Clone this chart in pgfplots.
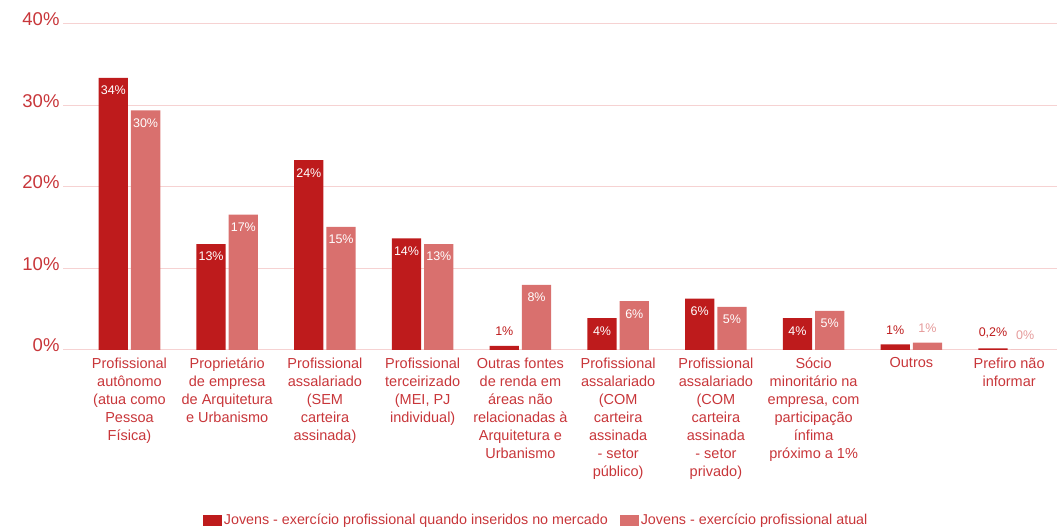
\documentclass[border=0pt]{standalone}
\usepackage{fontspec}
\setmainfont{Liberation Sans}
\usepackage{pgfplots}
\pgfplotsset{compat=1.18}
\definecolor{darkbar}{HTML}{BE1B1C}
\definecolor{lightbar}{HTML}{D9706E}
\definecolor{txtred}{HTML}{C8363A}
\definecolor{gridc}{HTML}{F6D2D2}
\definecolor{paletxt}{HTML}{E59A9A}
\begin{document}
\begin{tikzpicture}[x=1pt,y=1pt]
\useasboundingbox (0,0) rectangle (1059,529);
\begin{axis}[
  at={(63pt,179pt)}, anchor=south west,
  scale only axis, width=994pt, height=326pt,
  xmin=-0.68, xmax=9.49, ymin=0, ymax=40,
  ybar, bar width=0.3,
  axis line style={draw=none},
  major tick length=0pt,
  ytick={0,10,20,30,40},
  yticklabels={0\%,10\%,20\%,30\%,40\%},
  ymajorgrids, grid style={gridc, line width=1pt},
  yticklabel style={font=\fontsize{18.5}{20}\selectfont, text=txtred, yshift=4.5pt},
  xtick={0,...,9},
  xticklabels={
    {Profissional\\autônomo\\(atua como\\Pessoa\\Física)},
    {Proprietário\\de empresa\\de Arquitetura\\e Urbanismo},
    {Profissional\\assalariado\\(SEM\\carteira\\assinada)},
    {Profissional\\terceirizado\\(MEI, PJ\\individual)},
    {Outras fontes\\de renda em\\áreas não\\relacionadas à\\Arquitetura e\\Urbanismo},
    {Profissional\\assalariado\\(COM\\carteira\\assinada\\- setor\\público)},
    {Profissional\\assalariado\\(COM\\carteira\\assinada\\- setor\\privado)},
    {Sócio\\minoritário na\\empresa, com\\participação\\ínfima\\próximo a 1\%},
    {Outros},
    {Prefiro não\\informar}},
  xticklabel style={font=\fontsize{14.5}{18}\selectfont, text=txtred, align=center, anchor=north, yshift=-4pt},
  legend style={at={(0.476,-0.522)}, anchor=center, draw=none, fill=none,
    font=\fontsize{14.3}{16}\selectfont, text=txtred,
    /tikz/every even column/.append style={column sep=10pt}},
  legend columns=2,
  legend image code/.code={\fill[#1] (0pt,-5.5pt) rectangle (19pt,5.5pt);},
  point meta=explicit symbolic,
]
% bars
\addplot[fill=darkbar, draw=none, bar shift=-0.165] table[x=x, y=y] {
x y
0 33.4
1 13.0
2 23.3
3 13.7
4 0.5
5 3.9
6 6.3
7 3.9
8 0.7
9 0.2
};
\addlegendentry{Jovens - exercício profissional quando inseridos no mercado}
\addplot[fill=lightbar, draw=none, bar shift=0.165] table[x=x, y=y] {
x y
0 29.4
1 16.6
2 15.1
3 13.0
4 8.0
5 6.0
6 5.3
7 4.8
8 0.9
9 0.0
};
\addlegendentry{Jovens - exercício profissional atual}
% inside labels, dark
\addplot[forget plot, draw=none, fill=none, bar shift=-0.165,
  nodes near coords={\pgfplotspointmeta\%},
  every node near coord/.append style={anchor=north, yshift=-7pt, text=white, inner sep=1pt, font=\fontsize{12.5}{14}\selectfont}]
  table[x=x, y=y, meta=l] {
x y l
0 33.4 34
1 13.0 13
2 23.3 24
3 13.7 14
5 3.9 4
6 6.3 6
7 3.9 4
};
% inside labels, light
\addplot[forget plot, draw=none, fill=none, bar shift=0.165,
  nodes near coords={\pgfplotspointmeta\%},
  every node near coord/.append style={anchor=north, yshift=-7pt, text=white, inner sep=1pt, font=\fontsize{12.5}{14}\selectfont}]
  table[x=x, y=y, meta=l] {
x y l
0 29.4 30
1 16.6 17
2 15.1 15
3 13.0 13
4 8.0 8
5 6.0 6
6 5.3 5
7 4.8 5
};
% outside labels, dark
\addplot[forget plot, draw=none, fill=none, bar shift=-0.165,
  nodes near coords={\pgfplotspointmeta\%},
  every node near coord/.append style={anchor=south, yshift=9pt, text=darkbar, inner sep=1pt, font=\fontsize{12.5}{14}\selectfont}]
  table[x=x, y=y, meta=l] {
x y l
4 0.5 1
8 0.7 1
9 0.2 0,2
};
% outside labels, light
\addplot[forget plot, draw=none, fill=none, bar shift=0.165,
  nodes near coords={\pgfplotspointmeta\%},
  every node near coord/.append style={anchor=south, yshift=9pt, text=paletxt, inner sep=1pt, font=\fontsize{12.5}{14}\selectfont}]
  table[x=x, y=y, meta=l] {
x y l
8 0.9 1
9 0.0 0
};
\end{axis}
\end{tikzpicture}
\end{document}
